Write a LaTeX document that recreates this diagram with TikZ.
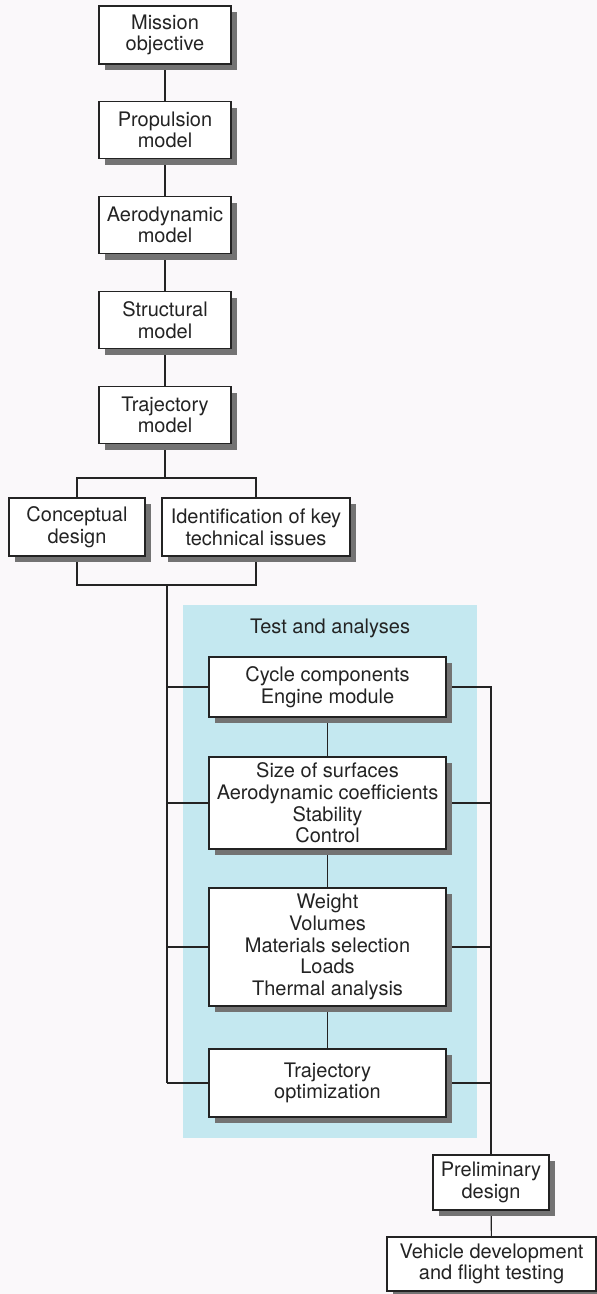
\documentclass[tikz,border=0pt]{standalone}
\usepackage{fontspec}
\setmainfont{TeX Gyre Heros}
\usetikzlibrary{shadows,backgrounds}
\definecolor{bgpage}{RGB}{250,248,250}
\definecolor{panelblue}{RGB}{196,232,240}
\definecolor{inkc}{RGB}{35,35,35}
\tikzset{
  box/.style={draw=inkc, line width=1.3pt, fill=white, align=center, inner sep=0pt,
    text=inkc, font=\fontsize{20}{21.7}\selectfont,
    drop shadow={shadow xshift=6pt, shadow yshift=-6pt, fill=black!55, opacity=1}},
  conn/.style={draw=inkc, line width=1.1pt},
}
\begin{document}
\begin{tikzpicture}[x=1pt,y=-1pt]
\useasboundingbox (0,0) rectangle (597,1294);

% top column
\node[box, minimum width=132pt, minimum height=58pt] (mission) at (165,35) {Mission\\objective};
\node[box, minimum width=132pt, minimum height=57pt] (prop) at (165,130) {Propulsion\\model};
\node[box, minimum width=132pt, minimum height=57pt] (aero) at (165,225) {Aerodynamic\\model};
\node[box, minimum width=132pt, minimum height=57pt] (struct) at (165,320) {Structural\\model};
\node[box, minimum width=132pt, minimum height=57pt] (traj) at (165,415) {Trajectory\\model};

\node[box, minimum width=136pt, minimum height=58pt] (concept) at (77,527) {Conceptual\\design};
\node[box, minimum width=188pt, minimum height=58pt] (ident) at (256,527) {Identification of key\\technical issues};

% test and analyses panel title
\node[text=inkc, font=\fontsize{20}{21.7}\selectfont] (title) at (330,628) {Test and analyses};

\node[box, minimum width=237pt, minimum height=60pt] (cycle) at (327.5,687) {Cycle components\\Engine module};
\node[box, minimum width=237pt, minimum height=92pt] (size) at (327.5,803) {Size of surfaces\\Aerodynamic coefficients\\Stability\\Control};
\node[box, minimum width=237pt, minimum height=118pt] (weight) at (327.5,947) {Weight\\Volumes\\Materials selection\\Loads\\Thermal analysis};
\node[box, minimum width=237pt, minimum height=68pt] (trajopt) at (327.5,1083) {Trajectory\\optimization};

\node[box, minimum width=116pt, minimum height=55pt] (prelim) at (491,1182.5) {Preliminary\\design};
\node[box, minimum width=209pt, minimum height=54pt] (vehicle) at (491.5,1264) {Vehicle development\\and flight testing};

\coordinate (split) at (165,478);
\coordinate (join) at (167,585);
\coordinate (leftend) at (167,1083);
\coordinate (rightline) at (491,687);

\begin{scope}[on background layer]
\fill[bgpage] (0,0) rectangle (597,1294);
\fill[panelblue] (183,605) rectangle (477,1138);
\draw[conn] (mission) -- (prop);
\draw[conn] (prop) -- (aero);
\draw[conn] (aero) -- (struct);
\draw[conn] (struct) -- (traj);
\draw[conn] (traj.south) -- (split);
\draw[conn] (concept.north) |- (split) -| (ident.north);
\draw[conn] (concept.south) |- (join) -| (ident.south);
\draw[conn] (join) -- (leftend);
\draw[conn] (cycle) -- (size);
\draw[conn] (size) -- (weight);
\draw[conn] (weight) -- (trajopt);
\draw[conn] (cycle.west) -| (join);
\draw[conn] (size.west) -- (size.west -| join);
\draw[conn] (weight.west) -- (weight.west -| join);
\draw[conn] (trajopt.west) -- (leftend);
\draw[conn] (cycle.east) -- (rightline) -- (prelim.north);
\draw[conn] (size.east) -- (size.east -| rightline);
\draw[conn] (weight.east) -- (weight.east -| rightline);
\draw[conn] (trajopt.east) -- (trajopt.east -| rightline);
\draw[conn] (prelim) -- (vehicle);
\end{scope}
\end{tikzpicture}
\end{document}
